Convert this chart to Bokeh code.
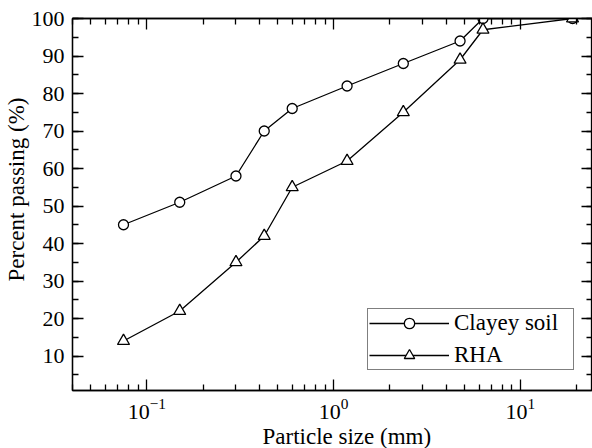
from bokeh.plotting import figure
from bokeh.models import (LogAxis, LinearAxis, SingleIntervalTicker, FixedTicker,
                          Range1d, Title, Legend, LegendItem)
from bokeh.embed import file_html
from bokeh.resources import INLINE

# ---- data ----
particle_size = [0.075, 0.15, 0.3, 0.425, 0.6, 1.18, 2.36, 4.75, 6.3, 19.0]
clayey_soil = [45, 51, 58, 70, 76, 82, 88, 94, 100, 100]
rha = [14, 22, 35, 42, 55, 62, 75, 89, 97, 100]

x_major_ticks = [0.1, 1, 10]
x_minor_ticks = [m * 10.0 ** e for e in (-2, -1, 0, 1) for m in range(2, 10)]

FONT = "serif"               # resolves to the Times-like Liberation Serif
TITLE_FONT = "Liberation Serif"
LW = 1.3

p = figure(width=592, height=448, x_axis_type="log",
           x_range=Range1d(0.04, 24.3), y_range=Range1d(0.8, 100),
           output_backend="svg", toolbar_location=None,
           min_border_left=72, min_border_right=0,
           min_border_top=18, min_border_bottom=57)
p.xgrid.visible = False
p.ygrid.visible = False
p.outline_line_color = "black"
p.outline_line_width = LW
p.background_fill_color = "white"
p.border_fill_color = "white"

xticker = FixedTicker(ticks=x_major_ticks, minor_ticks=x_minor_ticks)
yticker = SingleIntervalTicker(interval=10, num_minor_ticks=2)


def style(ax, labels=True):
    ax.axis_line_color = "black"
    ax.axis_line_width = LW
    ax.major_tick_line_color = "black"
    ax.major_tick_line_width = LW
    ax.minor_tick_line_color = "black"
    ax.minor_tick_line_width = LW
    ax.major_tick_in = 11
    ax.major_tick_out = 0
    ax.minor_tick_in = 6
    ax.minor_tick_out = 0
    ax.major_label_text_font = FONT
    ax.major_label_text_color = "black"
    if labels:
        ax.major_label_text_font_size = "22px"
    else:
        ax.major_label_text_font_size = "1px"
        ax.major_label_text_alpha = 0
        ax.major_label_standoff = 0


xa = p.xaxis[0]
xa.ticker = xticker
style(xa)
xa.major_label_standoff = 8

ya = p.yaxis[0]
ya.ticker = yticker
style(ya)
ya.major_label_standoff = 8

top = LogAxis(ticker=xticker)
style(top, labels=False)
p.add_layout(top, "above")

right = LinearAxis(ticker=yticker)
style(right, labels=False)
p.add_layout(right, "right")

# ---- axis titles (as side-panel titles so they can be placed off-centre) ----
xtitle = Title(text="Particle size (mm)", align="left", offset=190, standoff=0,
               text_font=TITLE_FONT, text_font_size="23px",
               text_font_style="normal", text_color="black")
p.add_layout(xtitle, "below")
ytitle = Title(text="Percent passing (%)", align="left", offset=109, standoff=0,
               text_font=TITLE_FONT, text_font_size="23px",
               text_font_style="normal", text_color="black")
p.add_layout(ytitle, "left")

# ---- series ----
l1 = p.line(particle_size, clayey_soil, line_color="black", line_width=LW)
s1 = p.scatter(particle_size, clayey_soil, marker="circle", size=10,
               fill_color="white", line_color="black", line_width=LW)
l2 = p.line(particle_size, rha, line_color="black", line_width=LW)
s2 = p.scatter(particle_size, rha, marker="triangle", size=12,
               fill_color="white", line_color="black", line_width=LW)

legend = Legend(items=[LegendItem(label="Clayey soil", renderers=[l1, s1]),
                       LegendItem(label="RHA", renderers=[l2, s2])],
                location=(295, 20))
legend.label_text_font = FONT
legend.label_text_font_size = "23px"
legend.label_text_color = "black"
legend.glyph_width = 80
legend.glyph_height = 26
legend.label_standoff = 5
legend.label_width = 118
legend.padding = 1
legend.spacing = 6
legend.margin = 0
legend.border_line_color = "black"
legend.border_line_width = LW
legend.background_fill_alpha = 1
p.add_layout(legend)

open("out.html", "w").write(file_html(p, INLINE))
